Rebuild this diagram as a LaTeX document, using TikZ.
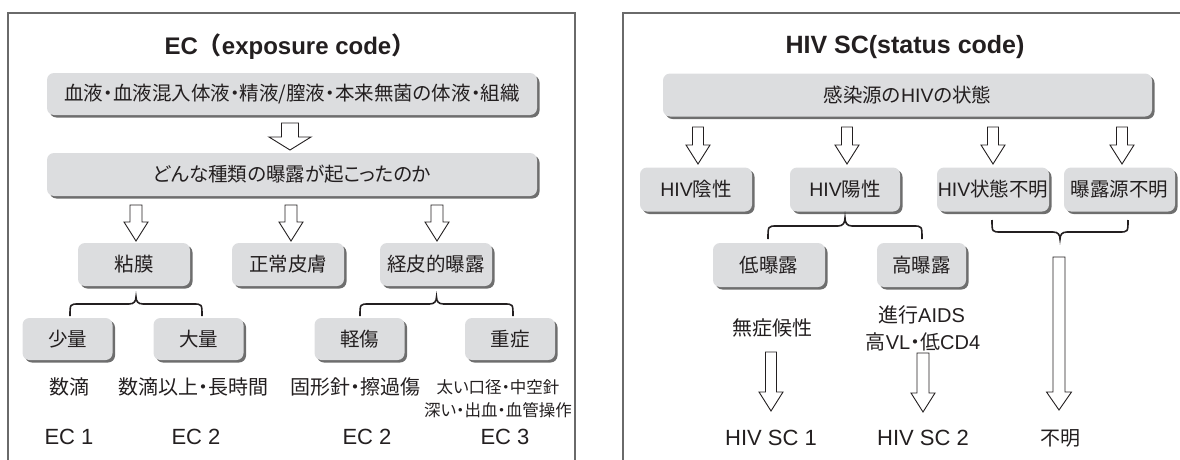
\documentclass[tikz,border=0pt]{standalone}
\usepackage{fontspec}
\setmainfont{Liberation Sans}
\newfontfamily\cjk[RawFeature=+palt]{Noto Sans CJK JP}
\newfontfamily\cjkf{Noto Sans CJK JP}
\usetikzlibrary{shadows}
\definecolor{boxfill}{HTML}{DCDDDF}
\definecolor{shade}{HTML}{6E6E6E}
\definecolor{frame}{HTML}{6A6A6A}
\definecolor{ink}{HTML}{231F20}
\newcommand\J[1]{{\cjk #1}}
\newcommand\F[1]{{\cjkf #1}}
\newcommand\fs[1]{\fontsize{#1}{#1}\selectfont}
\newcommand\barrow[6]{\draw[arw] ({#1-#5/2},#2) -- ({#1+#5/2},#2) -- ({#1+#5/2},#3) -- ({#1+#6/2},#3) -- (#1,#4) -- ({#1-#6/2},#3) -- ({#1-#5/2},#3) -- cycle;}
\newcommand\curly[5]{%
  \pgfmathsetmacro\xc{(#1+#2)/2}%
  \draw[brc] (#1,#3) .. controls (#1,#4) .. ({#1+9},#4) -- ({\xc-7},#4)
    .. controls ({\xc-2},#4) and (\xc,{#4+0.4*(#5-#4)}) .. (\xc,#5)
    .. controls (\xc,{#4+0.4*(#5-#4)}) and ({\xc+2},#4) .. ({\xc+7},#4)
    -- ({#2-9},#4) .. controls (#2,#4) .. (#2,#3);}
\begin{document}
\begin{tikzpicture}[x=1pt,y=-1pt,
  box/.style={rounded corners=7pt, fill=boxfill, draw=none, inner sep=0pt,
    text=ink, font=\fs{19.5},
    drop shadow={shadow xshift=2.5pt, shadow yshift=-2.5pt, fill=shade, opacity=1}},
  lbl/.style={text=ink, inner sep=0pt, font=\fs{20}},
  code/.style={text=ink, inner sep=0pt, font=\fs{22}},
  ttl/.style={text=ink, inner sep=0pt, font=\fs{25}\bfseries},
  arw/.style={draw=ink, fill=white, line width=0.9pt, line join=miter},
  brc/.style={draw=ink, line width=1.6pt},
  frm/.style={draw=frame, line width=1.3pt}]
\useasboundingbox (0,0) rectangle (1180,460);
% panel frames
\draw[frm] (8,462) -- (8,13) -- (575,13) -- (575,462);
\draw[frm] (623,462) -- (623,13) -- (1182,13);
% ---------- left panel ----------
\node[ttl, font=\fs{24}\bfseries] (t1) at (290,47) {EC\F{（}exposure code\F{）}};
\node[box, minimum width=490, minimum height=42] (b1) at (292,94) {\J{血液・血液混入体液・精液/膣液・本来無菌の体液・組織}};
\node[box, minimum width=490, minimum height=43] (b2) at (292,174.5) {\J{どんな種類の曝露が起こったのか}};
\node[box, minimum width=112, minimum height=43] (m1) at (134,264.5) {\J{粘膜}};
\node[box, minimum width=112, minimum height=43] (m2) at (288,264.5) {\J{正常皮膚}};
\node[box, minimum width=112, minimum height=43] (m3) at (436,264.5) {\J{経皮的曝露}};
\node[box, minimum width=90, minimum height=42] (s1) at (67.5,339) {\J{少量}};
\node[box, minimum width=90, minimum height=42] (s2) at (198.5,339) {\J{大量}};
\node[box, minimum width=90, minimum height=42] (s3) at (359.5,339) {\J{軽傷}};
\node[box, minimum width=90, minimum height=42] (s4) at (510,339) {\J{重症}};
\node[lbl] (l1) at (69,387) {\J{数滴}};
\node[lbl] (l2) at (193,387) {\J{数滴以上・長時間}};
\node[lbl] (l3) at (355,387) {\J{固形針・擦過傷}};
\node[lbl, font=\fs{16.5}] (l4) at (498,387) {\J{太い口径・中空針}};
\node[lbl, font=\fs{16.5}] (l5) at (498,410) {\J{深い・出血・血管操作}};
\node[code] (e1) at (69,437) {EC 1};
\node[code] (e2) at (196,437) {EC 2};
\node[code] (e3) at (367,437) {EC 2};
\node[code] (e4) at (505,437) {EC 3};
\barrow{290}{123}{137}{150}{17}{42}
\barrow{136}{205}{222}{241}{12}{24}
\barrow{291}{205}{222}{241}{12}{24}
\barrow{437}{205}{222}{241}{12}{24}
\curly{70}{202}{316}{304}{297}
\curly{360}{513}{316}{304}{297}
% ---------- right panel ----------
\node[ttl] (t2) at (905,47) {HIV SC(status code)};
\node[box, minimum width=489, minimum height=43] (r1) at (907.5,95) {\J{感染源の}HIV\J{の状態}};
\node[box, minimum width=112, minimum height=44] (r2) at (696,189.5) {HIV\J{陰性}};
\node[box, minimum width=110, minimum height=44] (r3) at (845,189.5) {HIV\J{陽性}};
\node[box, minimum width=112, minimum height=44] (r4) at (993,189.5) {HIV\J{状態不明}};
\node[box, minimum width=111, minimum height=44] (r5) at (1119.5,189.5) {\J{曝露源不明}};
\node[box, minimum width=112, minimum height=44] (r6) at (769,265) {\J{低曝露}};
\node[box, minimum width=89, minimum height=44] (r7) at (921.5,265) {\J{高曝露}};
\node[lbl] (q1) at (772,328) {\J{無症候性}};
\node[lbl] (q2) at (921.5,315) {\J{進行}AIDS};
\node[lbl] (q3) at (923,342) {\J{高}VL\J{・低}CD4};
\node[code] (h1) at (771,438) {HIV SC 1};
\node[code] (h2) at (923,438) {HIV SC 2};
\node[lbl] (h3) at (1060,438) {\J{不明}};
\barrow{698}{127}{145}{164}{11}{24}
\barrow{847}{127}{145}{164}{11}{24}
\barrow{993}{127}{145}{164}{11}{24}
\barrow{1122}{127}{145}{164}{11}{24}
\curly{768}{922}{239}{226}{218}
\curly{992}{1128}{220}{232}{239}
\barrow{771}{352}{392}{411}{11}{24}
\barrow{923}{353}{393}{412}{12}{24}
\barrow{1059}{257}{392}{410}{12}{25}
\end{tikzpicture}
\end{document}
